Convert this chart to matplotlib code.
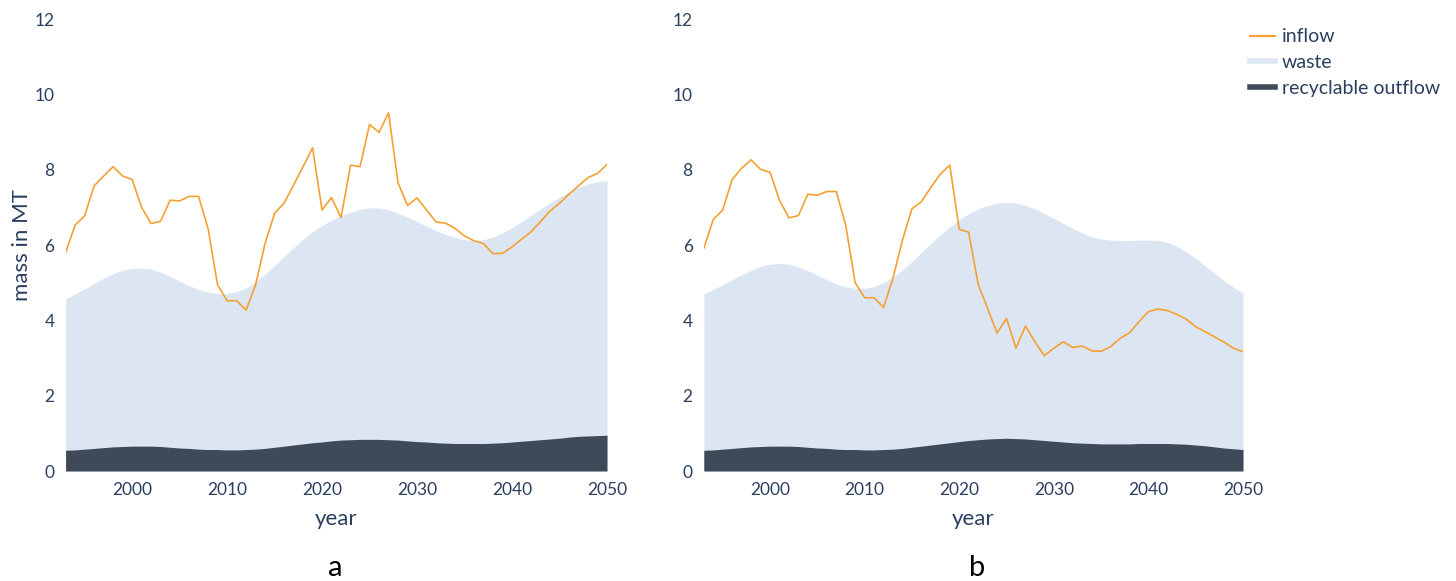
import numpy as np
import matplotlib
matplotlib.use("Agg")
import matplotlib.pyplot as plt
from matplotlib.lines import Line2D

plt.rcParams['font.family'] = ['Lato', 'DejaVu Sans']

years = list(range(1993, 2051))

# panel a
inflow_a = [5.80, 6.53, 6.77, 7.57, 7.83, 8.08, 7.83, 7.74, 7.00, 6.57,
            6.63, 7.19, 7.17, 7.29, 7.29, 6.44, 4.94, 4.52, 4.52, 4.27,
            4.94, 6.04, 6.84, 7.11, 7.59, 8.08, 8.58, 6.93, 7.26, 6.73,
            8.12, 8.08, 9.20, 8.99, 9.51, 7.65, 7.05, 7.25, 6.93, 6.61,
            6.58, 6.44, 6.24, 6.11, 6.04, 5.77, 5.78, 5.95, 6.15, 6.35,
            6.62, 6.90, 7.11, 7.35, 7.57, 7.79, 7.90, 8.14]
waste_a = [4.57, 4.70, 4.84, 4.98, 5.12, 5.24, 5.33, 5.38, 5.39, 5.36,
           5.28, 5.17, 5.04, 4.92, 4.82, 4.75, 4.71, 4.71, 4.76, 4.85,
           5.02, 5.22, 5.45, 5.70, 5.93, 6.15, 6.35, 6.52, 6.66, 6.78,
           6.87, 6.95, 6.99, 6.98, 6.93, 6.85, 6.74, 6.62, 6.50, 6.38,
           6.28, 6.20, 6.14, 6.12, 6.14, 6.21, 6.32, 6.46, 6.62, 6.79,
           6.96, 7.12, 7.27, 7.41, 7.53, 7.62, 7.68, 7.71]
recycl_a = [0.55, 0.56, 0.58, 0.60, 0.62, 0.64, 0.65, 0.66, 0.66, 0.66,
            0.65, 0.63, 0.61, 0.60, 0.58, 0.57, 0.57, 0.56, 0.56, 0.57,
            0.58, 0.60, 0.63, 0.66, 0.69, 0.72, 0.75, 0.77, 0.80, 0.82,
            0.83, 0.84, 0.84, 0.84, 0.83, 0.82, 0.80, 0.78, 0.77, 0.75,
            0.74, 0.73, 0.73, 0.73, 0.73, 0.74, 0.75, 0.77, 0.79, 0.81,
            0.83, 0.85, 0.87, 0.90, 0.92, 0.93, 0.94, 0.95]

# panel b
inflow_b = [5.91, 6.68, 6.93, 7.74, 8.04, 8.26, 8.01, 7.93, 7.19, 6.72,
            6.78, 7.35, 7.32, 7.42, 7.42, 6.53, 5.00, 4.60, 4.60, 4.34,
            5.12, 6.13, 6.96, 7.15, 7.53, 7.88, 8.12, 6.42, 6.34, 4.96,
            4.32, 3.66, 4.05, 3.26, 3.85, 3.43, 3.06, 3.26, 3.43, 3.28,
            3.32, 3.19, 3.18, 3.30, 3.52, 3.67, 3.96, 4.23, 4.30, 4.26,
            4.16, 4.03, 3.83, 3.70, 3.56, 3.42, 3.26, 3.17]
waste_b = [4.70, 4.82, 4.95, 5.08, 5.21, 5.33, 5.43, 5.49, 5.51, 5.49,
           5.42, 5.32, 5.20, 5.08, 4.97, 4.89, 4.85, 4.85, 4.90, 5.00,
           5.15, 5.34, 5.56, 5.80, 6.04, 6.27, 6.48, 6.67, 6.83, 6.96,
           7.05, 7.11, 7.13, 7.11, 7.05, 6.96, 6.84, 6.71, 6.57, 6.44,
           6.32, 6.22, 6.16, 6.13, 6.12, 6.12, 6.13, 6.13, 6.12, 6.07,
           5.97, 5.82, 5.64, 5.45, 5.25, 5.05, 4.88, 4.72]
recycl_b = [0.55, 0.56, 0.58, 0.60, 0.62, 0.64, 0.65, 0.66, 0.66, 0.66,
            0.65, 0.63, 0.61, 0.60, 0.58, 0.57, 0.57, 0.56, 0.56, 0.57,
            0.58, 0.60, 0.63, 0.66, 0.69, 0.72, 0.75, 0.78, 0.81, 0.83,
            0.85, 0.86, 0.87, 0.86, 0.85, 0.83, 0.81, 0.79, 0.77, 0.75,
            0.74, 0.73, 0.72, 0.72, 0.72, 0.72, 0.73, 0.73, 0.73, 0.73,
            0.72, 0.71, 0.69, 0.67, 0.64, 0.61, 0.59, 0.57]

xticks = [2000, 2010, 2020, 2030, 2040, 2050]
yticks = [0, 2, 4, 6, 8, 10, 12]
panel_labels = ["a", "b"]

C_INFLOW = "#f5a032"
C_WASTE = "#dce6f2"
C_RECYCL = "#3e4a58"
C_TEXT = "#2a3f5f"

W, H = 1456, 581
fig = plt.figure(figsize=(W / 100, H / 100), dpi=100)


def make_ax(left_px, right_px):
    top_px, bot_px = 19, 471
    return fig.add_axes([left_px / W, 1 - bot_px / H,
                         (right_px - left_px) / W, (bot_px - top_px) / H])


axes = [make_ax(65.6, 607), make_ax(703.8, 1243)]
data = [(inflow_a, waste_a, recycl_a), (inflow_b, waste_b, recycl_b)]
label_x = [335, 977]

for ax, (inflow, waste, recycl), lab, lx in zip(axes, data, panel_labels, label_x):
    ax.fill_between(years, 0, waste, color=C_WASTE, lw=0, zorder=1)
    ax.fill_between(years, 0, recycl, color=C_RECYCL, lw=0, zorder=2)
    ax.plot(years, inflow, color=C_INFLOW, lw=1.2, zorder=3)
    ax.set_xlim(1993, 2050)
    ax.set_ylim(0, 12)
    ax.set_xticks(xticks)
    ax.set_yticks(yticks)
    ax.tick_params(length=0, labelsize=12.5, labelcolor=C_TEXT, pad=8)
    for s in ax.spines.values():
        s.set_visible(False)
    ax.set_xlabel("year", fontsize=16, color=C_TEXT, labelpad=8)
    fig.text(lx / W, 1 - 568 / H, lab, ha="center", va="center",
             fontsize=21, color="black")

axes[0].set_ylabel("mass in MT", fontsize=16, color=C_TEXT, labelpad=2)

handles = [Line2D([], [], color=C_INFLOW, lw=1.5),
           Line2D([], [], color=C_WASTE, lw=4),
           Line2D([], [], color=C_RECYCL, lw=4)]
fig.legend(handles, ["inflow", "waste", "recyclable outflow"],
           loc="upper left", bbox_to_anchor=(1232 / W, 1 - 11 / H),
           frameon=False, fontsize=14, labelcolor=C_TEXT,
           handlelength=1.3, handletextpad=0.35, labelspacing=0.45)

fig.savefig("out.png", dpi=100)
